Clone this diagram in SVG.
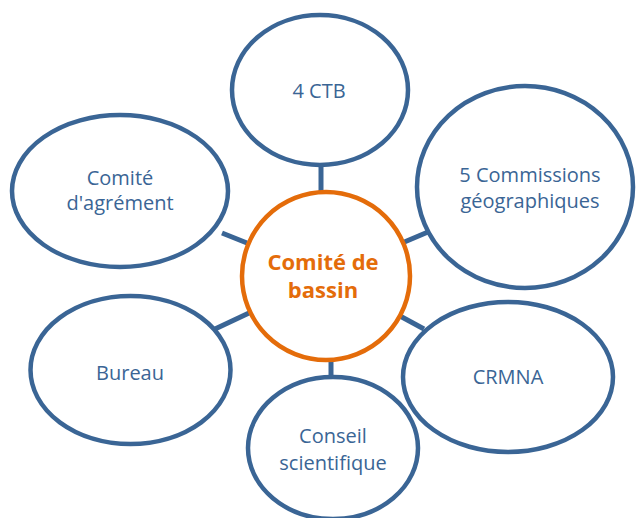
<svg xmlns="http://www.w3.org/2000/svg" width="636" height="518" viewBox="0 0 636 518">
<style>
.node{fill:#FFFFFF;stroke:#3A6595;stroke-width:4.5}
.hub{fill:#FFFFFF;stroke:#E46C0A;stroke-width:4.5}
.lbl{font-family:"Open Sans","Noto Sans",sans-serif;font-size:20px;fill:#3A6595;text-anchor:middle}
.hlbl{font-family:"Open Sans","Noto Sans",sans-serif;font-size:22px;font-weight:bold;fill:#E46C0A;text-anchor:middle}
.con{stroke:#3A6595;stroke-width:5;fill:none}
</style>
<rect width="636" height="518" fill="#FFFFFF"/>
<g id="connectors">
<line class="con" x1="321" y1="165" x2="321" y2="193"/>
<line class="con" x1="402" y1="243" x2="428" y2="232"/>
<line class="con" x1="222" y1="233" x2="247" y2="243"/>
<line class="con" x1="215" y1="329" x2="249" y2="313"/>
<line class="con" x1="400" y1="316" x2="424" y2="329"/>
<line class="con" x1="331" y1="359" x2="331" y2="386"/>
</g>
<g id="node-ctb">
<ellipse class="node" cx="320" cy="90" rx="88" ry="75"/>
<text class="lbl" x="319" y="98">4 CTB</text>
</g>
<g id="node-commissions">
<ellipse class="node" cx="525" cy="187" rx="108" ry="101"/>
<text class="lbl" x="530" y="182">5 Commissions</text>
<text class="lbl" x="530" y="208">géographiques</text>
</g>
<g id="node-agrement">
<ellipse class="node" cx="120" cy="191" rx="108" ry="76"/>
<text class="lbl" x="120" y="185">Comité</text>
<text class="lbl" x="120" y="210">d'agrément</text>
</g>
<g id="node-bureau">
<ellipse class="node" cx="130.5" cy="370" rx="100" ry="74"/>
<text class="lbl" x="130" y="380">Bureau</text>
</g>
<g id="node-crmna">
<ellipse class="node" cx="508" cy="377" rx="105" ry="75"/>
<text class="lbl" x="508" y="384">CRMNA</text>
</g>
<g id="node-conseil">
<ellipse class="node" cx="333" cy="448" rx="85" ry="71"/>
<text class="lbl" x="333" y="443">Conseil</text>
<text class="lbl" x="333" y="470">scientifique</text>
</g>
<g id="node-comite-bassin">
<circle class="hub" cx="326" cy="276" r="84"/>
<text class="hlbl" x="323" y="270">Comité de</text>
<text class="hlbl" x="323" y="298">bassin</text>
</g>
</svg>
